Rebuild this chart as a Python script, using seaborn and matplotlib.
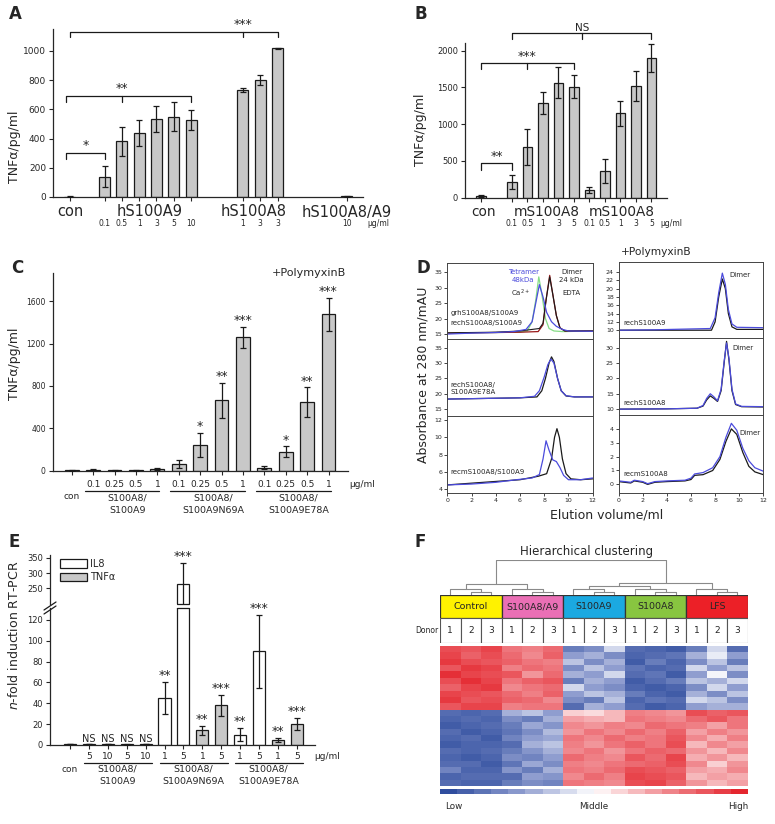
import numpy as np
import pandas as pd
import matplotlib
matplotlib.use('Agg')
import matplotlib.pyplot as plt
from matplotlib.colors import LinearSegmentedColormap
from matplotlib.transforms import offset_copy
from matplotlib.patches import Patch, Rectangle
from matplotlib.lines import Line2D
import seaborn as sns

sns.set_style("ticks")
plt.rcParams['font.family'] = ['DejaVu Sans']
plt.rcParams['axes.linewidth'] = 0.9
plt.rcParams['xtick.major.width'] = 0.8
plt.rcParams['ytick.major.width'] = 0.8

# ---------------- data ----------------
# A: human proteins, TNFa
a_groups = ['con', 'hS100A9', 'hS100A8', 'hS100A8/A9']
a_doses = [[''], ['0.1', '0.5', '1', '3', '5', '10'], ['1', '3', '3'], ['10']]
a_vals = [[2], [140, 380, 440, 535, 550, 527], [733, 800, 1018], [5]]
a_errs = [[2], [70, 100, 90, 90, 100, 70], [15, 35, 5], [3]]

# B: murine proteins, TNFa
b_groups = ['con', 'mS100A8', 'mS100A8']
b_doses = [[''], ['0.1', '0.5', '1', '3', '5'], ['0.1', '0.5', '1', '3', '5']]
b_vals = [[25], [220, 690, 1290, 1565, 1510], [100, 365, 1150, 1520, 1900]]
b_errs = [[10], [95, 250, 155, 215, 155], [40, 165, 170, 210, 195]]

# C: mutants + PolymyxinB
c_groups = ['con', 'S100A8/\nS100A9', 'S100A8/\nS100A9N69A', 'S100A8/\nS100A9E78A']
c_doses = [[''], ['0.1', '0.25', '0.5', '1'], ['0.1', '0.25', '0.5', '1'], ['0.1', '0.25', '0.5', '1']]
c_vals = [[5], [8, 2, 3, 15], [65, 245, 665, 1260], [30, 180, 650, 1475]]
c_errs = [[4], [5, 2, 2, 6], [35, 115, 165, 100], [10, 50, 140, 160]]
c_sig = [[''], ['', '', '', ''], ['', '*', '**', '***'], ['', '*', '**', '***']]

# D: gel filtration traces (elution volume ml, absorbance mAU)
d_tl_green_x = [0, 2, 4, 6, 6.6, 7.0, 7.3, 7.55, 7.8, 8.1, 8.4, 8.8, 9.5, 12]
d_tl_green_y = [15.2, 15.4, 15.5, 15.6, 16, 19, 26, 33.5, 28, 20, 16.8, 16, 15.8, 16]
d_tl_blue_x = [0, 2, 4, 5.5, 6.5, 7.0, 7.3, 7.6, 7.9, 8.2, 8.6, 9.0, 9.5, 10, 12]
d_tl_blue_y = [15, 15.3, 15.5, 15.8, 16.5, 19, 25, 31, 27, 22, 19, 17.5, 16.5, 16, 15.9]
d_tl_red_x = [0, 4, 6, 7.5, 7.9, 8.15, 8.45, 8.7, 9.0, 9.3, 9.7, 12]
d_tl_red_y = [15.3, 15.5, 15.6, 15.8, 18, 26, 34, 28, 21, 17, 16, 16]
d_tl_black_x = [0, 4, 6, 7, 7.6, 7.9, 8.15, 8.45, 8.7, 9.0, 9.3, 9.7, 12]
d_tl_black_y = [15.4, 15.6, 16, 16.5, 16.8, 18.5, 26, 33.5, 28, 21, 17, 16, 16]

d_ml_black_x = [0, 3, 6, 7.4, 7.8, 8.1, 8.4, 8.6, 8.8, 9.1, 9.4, 9.8, 10.5, 12]
d_ml_black_y = [18.3, 18.5, 18.7, 19, 21, 25, 30, 32, 30.5, 25, 21, 19.3, 19, 19]
d_ml_blue_x = [0, 3, 6, 7.2, 7.6, 8.0, 8.3, 8.55, 8.8, 9.1, 9.4, 9.8, 10.5, 12]
d_ml_blue_y = [18.3, 18.5, 18.7, 19.2, 21, 25.5, 29.5, 31.3, 30, 25, 21, 19.4, 19, 19]

d_bl_black_x = [0, 2, 4, 6, 7.5, 8.2, 8.6, 8.85, 9.05, 9.25, 9.5, 9.8, 10.2, 11, 12]
d_bl_black_y = [4.5, 4.7, 4.9, 5.1, 5.5, 5.8, 7.5, 10, 11, 10, 7.5, 5.8, 5.2, 5.1, 5.2]
d_bl_blue_x = [0, 2, 4, 5.7, 7, 7.6, 7.9, 8.15, 8.4, 8.7, 9.0, 9.3, 9.6, 10, 11, 12]
d_bl_blue_y = [4.5, 4.6, 4.8, 5.1, 5.3, 5.7, 7.5, 9.6, 8.5, 7.4, 7.2, 6.5, 5.6, 5.1, 5.1, 5.3]

d_tr_blue_x = [0, 3, 6, 7.6, 8.0, 8.3, 8.6, 8.85, 9.1, 9.4, 9.8, 12]
d_tr_blue_y = [10, 10.1, 10.3, 10.4, 13, 19, 23.7, 21, 15, 11.5, 10.7, 10.6]
d_tr_black_x = [0, 3, 6, 7.7, 8.0, 8.3, 8.6, 8.85, 9.1, 9.4, 9.8, 12]
d_tr_black_y = [10, 10, 10, 10, 12, 18, 22.3, 20, 14, 10.8, 10.2, 10.2]

d_mr_black_x = [0, 4, 6.5, 7.0, 7.3, 7.6, 7.9, 8.2, 8.5, 8.75, 8.95, 9.15, 9.4, 9.7, 10.2, 12]
d_mr_black_y = [10, 10.1, 10.3, 11, 13, 14.3, 13.5, 12.5, 16, 25, 32, 26, 16, 11.5, 10.8, 10.7]
d_mr_blue_x = [0, 4, 6.5, 7.0, 7.3, 7.6, 7.9, 8.2, 8.5, 8.75, 8.95, 9.15, 9.4, 9.7, 10.2, 12]
d_mr_blue_y = [10, 10.1, 10.3, 11.2, 13.5, 15, 14, 12.7, 16.5, 25.5, 31.5, 26.5, 16.5, 11.7, 10.9, 10.8]

d_br_blue_x = [0, 1, 1.3, 2, 2.4, 3, 4, 5.5, 6, 6.3, 7, 7.8, 8.4, 8.9, 9.35, 9.8, 10.3, 10.8, 11.3, 12]
d_br_blue_y = [0.25, 0.15, 0.3, 0.2, 0.05, 0.2, 0.25, 0.3, 0.45, 0.75, 0.85, 1.2, 2.0, 3.4, 4.4, 3.9, 2.6, 1.7, 1.2, 0.95]
d_br_black_x = [0, 1, 1.3, 2, 2.4, 3, 4, 5.5, 6, 6.3, 7, 7.8, 8.4, 8.9, 9.35, 9.8, 10.3, 10.8, 11.3, 12]
d_br_black_y = [0.2, 0.1, 0.25, 0.15, 0.0, 0.15, 0.2, 0.25, 0.35, 0.65, 0.7, 1.0, 1.8, 3.1, 4.0, 3.6, 2.3, 1.3, 0.9, 0.7]

# E: RT-PCR
e_groups = ['con', 'S100A8/\nS100A9', 'S100A8/\nS100A9N69A', 'S100A8/\nS100A9E78A']
e_doses = [[''], ['5', '10', '5', '10'], ['1', '5', '1', '5'], ['1', '5', '1', '5']]
e_kind = [['IL8'], ['IL8', 'IL8', 'TNFα', 'TNFα'], ['IL8', 'IL8', 'TNFα', 'TNFα'], ['IL8', 'IL8', 'TNFα', 'TNFα']]
e_vals = [[1], [1, 1, 0.5, 1], [45, 265, 14, 38], [10, 90, 5, 20]]
e_errs = [[0.4], [0.4, 0.4, 0.3, 0.4], [15, 68, 4, 10], [6, 35, 2, 6]]
e_sig = [[''], ['NS', 'NS', 'NS', 'NS'], ['**', '***', '**', '***'], ['**', '***', '**', '***']]

# F: heatmap
f_groups = ['Control', 'S100A8/A9', 'S100A9', 'S100A8', 'LFS']
f_group_colors = ['#fff200', '#ea6fb5', '#1ba9e1', '#88c540', '#ec2027']
f_donors = ['1', '2', '3']
f_top = [
    [0.80, 0.75, 0.85, 0.60, 0.55, 0.65, -0.70, -0.60, -0.20, -0.80, -0.85, -0.90, -0.70, -0.20, -0.80],
    [0.85, 0.70, 0.80, 0.65, 0.50, 0.70, -0.50, -0.40, -0.60, -0.85, -0.80, -0.75, -0.40, -0.10, -0.50],
    [0.90, 0.80, 0.75, 0.70, 0.60, 0.55, -0.30, -0.60, -0.40, -0.90, -0.70, -0.85, -0.60, -0.30, -0.70],
    [0.75, 0.90, 0.85, 0.55, 0.65, 0.60, -0.60, -0.30, -0.50, -0.75, -0.85, -0.80, -0.20, -0.50, -0.30],
    [0.95, 0.85, 0.80, 0.75, 0.45, 0.65, -0.40, -0.50, -0.20, -0.80, -0.75, -0.90, -0.50, -0.05, -0.60],
    [0.80, 0.95, 0.85, 0.60, 0.70, 0.75, -0.70, -0.40, -0.50, -0.90, -0.80, -0.70, -0.30, -0.40, -0.20],
    [0.70, 0.85, 0.90, 0.50, 0.60, 0.65, -0.20, -0.50, -0.60, -0.85, -0.90, -0.85, -0.60, -0.20, -0.50],
    [0.85, 0.80, 0.75, 0.65, 0.55, 0.70, -0.50, -0.30, -0.40, -0.70, -0.85, -0.90, -0.40, -0.60, -0.30],
    [0.90, 0.75, 0.80, 0.70, 0.65, 0.50, -0.60, -0.70, -0.30, -0.85, -0.75, -0.80, -0.20, -0.30, -0.60],
    [0.75, 0.85, 0.85, 0.55, 0.60, 0.60, -0.80, -0.40, -0.50, -0.80, -0.90, -0.85, -0.50, -0.40, -0.40],
]
f_bottom = [
    [-0.80, -0.85, -0.80, -0.40, -0.30, -0.50, 0.20, 0.15, 0.30, 0.55, 0.50, 0.45, 0.80, 0.70, 0.75],
    [-0.85, -0.80, -0.85, -0.60, -0.70, -0.40, 0.40, 0.35, 0.30, 0.60, 0.55, 0.50, 0.65, 0.75, 0.60],
    [-0.90, -0.85, -0.80, -0.70, -0.45, -0.55, 0.50, 0.45, 0.55, 0.50, 0.65, 0.60, 0.55, 0.40, 0.60],
    [-0.80, -0.90, -0.85, -0.75, -0.60, -0.35, 0.45, 0.60, 0.50, 0.65, 0.55, 0.70, 0.40, 0.55, 0.45],
    [-0.85, -0.80, -0.90, -0.65, -0.50, -0.45, 0.60, 0.50, 0.65, 0.55, 0.60, 0.75, 0.50, 0.35, 0.55],
    [-0.90, -0.85, -0.85, -0.80, -0.40, -0.30, 0.55, 0.45, 0.60, 0.70, 0.60, 0.80, 0.30, 0.50, 0.40],
    [-0.80, -0.85, -0.80, -0.70, -0.55, -0.40, 0.50, 0.60, 0.45, 0.60, 0.70, 0.65, 0.45, 0.30, 0.50],
    [-0.85, -0.90, -0.85, -0.60, -0.65, -0.50, 0.65, 0.55, 0.50, 0.75, 0.65, 0.85, 0.35, 0.45, 0.30],
    [-0.80, -0.80, -0.90, -0.75, -0.45, -0.60, 0.55, 0.50, 0.60, 0.65, 0.70, 0.80, 0.50, 0.20, 0.45],
    [-0.65, -0.85, -0.85, -0.55, -0.70, -0.40, 0.60, 0.55, 0.65, 0.80, 0.75, 0.70, 0.40, 0.35, 0.50],
    [-0.85, -0.80, -0.80, -0.80, -0.50, -0.55, 0.50, 0.65, 0.55, 0.85, 0.80, 0.75, 0.30, 0.40, 0.35],
    [-0.80, -0.85, -0.85, -0.70, -0.60, -0.65, 0.60, 0.55, 0.50, 0.80, 0.85, 0.70, 0.45, 0.30, 0.40],
]
# dendrogram merges: (child a, child b, height); leaves 0-14, new nodes from 15
f_merges = [(1, 2, 0.10), (0, 15, 0.18), (4, 5, 0.10), (3, 17, 0.18), (16, 18, 0.32),
            (7, 8, 0.10), (6, 20, 0.18), (10, 11, 0.10), (9, 22, 0.18), (21, 23, 0.27),
            (13, 14, 0.10), (12, 25, 0.18), (24, 26, 0.33), (19, 27, 1.0)]

# ---------------- helpers ----------------
W, H = 775, 824
fig = plt.figure(figsize=(W / 100, H / 100), dpi=100)
INK = '#1a1a1a'
GRAY = '#c8c8c8'


def box(l, t, r, b):
    return fig.add_axes([l / W, 1 - b / H, (r - l) / W, (b - t) / H])


def ftext(x, y, s, **kw):
    fig.text(x / W, 1 - y / H, s, **kw)


def fline(x0, y0, x1, y1, **kw):
    fig.add_artist(Line2D([x0 / W, x1 / W], [1 - y0 / H, 1 - y1 / H], transform=fig.transFigure, **kw))


def flat(ls):
    return [v for l in ls for v in l]


def place(gaps, groups):
    pos, x = [], 0
    for g, vals in zip(gaps, groups):
        x += g
        for _ in vals:
            pos.append(x)
            x += 1
    return pos


def under(ax, x, px, s, **kw):
    tr = offset_copy(ax.get_xaxis_transform(), fig=fig, x=0, y=-px * 0.72, units='points')
    ax.text(x, 0, s, transform=tr, ha='center', va='center', clip_on=False, **kw)


def underline(ax, x0, x1, px):
    tr = offset_copy(ax.get_xaxis_transform(), fig=fig, x=0, y=-px * 0.72, units='points')
    ax.plot([x0, x1], [0, 0], transform=tr, color=INK, lw=0.9, clip_on=False)


def draw_bars(ax, pos, vals, errs, colors):
    df = pd.DataFrame({'x': pos, 'y': vals, 'c': colors})
    for c, d in df.groupby('c'):
        sns.barplot(data=d, x='x', y='y', native_scale=True, color=c, saturation=1,
                    width=0.64, edgecolor=INK, linewidth=0.9, errorbar=None, ax=ax, orient='x')
    ax.errorbar(pos, vals, yerr=errs, fmt='none', ecolor=INK, elinewidth=0.9,
                capsize=2.3, capthick=0.9, zorder=5)
    ax.set_xlabel('')
    ax.set_ylabel('')


def bracket(ax, x0, x1, y, drop, text, xm=None, fs=9):
    ax.plot([x0, x0, x1, x1], [y - drop, y, y, y - drop], color=INK, lw=0.9, clip_on=False)
    if xm is not None:
        ax.plot([xm, xm], [y, y - drop], color=INK, lw=0.9, clip_on=False)
    else:
        xm = (x0 + x1) / 2
    ax.annotate(text, (xm, y), xytext=(0, 0.5), textcoords='offset points',
                ha='center', va='bottom', fontsize=fs, annotation_clip=False)


def stars(ax, pos, vals, errs, sig, fs=9):
    for p, v, e, s in zip(pos, vals, errs, sig):
        if s:
            ax.annotate(s, (p, v + e), xytext=(0, -0.5), textcoords='offset points',
                        ha='center', va='bottom', fontsize=fs if s != 'NS' else 7,
                        annotation_clip=False)


def panel_letter(x, y, s):
    ftext(x, y, s, fontsize=12, fontweight='bold', ha='left', va='center')


# ---------------- A ----------------
ax = box(53, 29, 363, 197)
pos = place([0, 1, 2, 3], a_vals)
draw_bars(ax, pos, flat(a_vals), flat(a_errs), [GRAY] * len(pos))
ax.set_xlim(-0.98, 16.94)
ax.set_ylim(0, 1150)
ax.set_yticks(range(0, 1001, 200))
ax.set_xticks(pos)
ax.set_xticklabels([])
ax.tick_params(labelsize=6.5, length=3, pad=2)
sns.despine(ax=ax)
ax.set_ylabel('TNFα/pg/ml', fontsize=9)
ax.yaxis.set_label_coords(-0.103, 0.3)
a_label_shift = [0, 0.1, -0.4, 0]
i = 0
for g, d, sh in zip(a_groups, a_doses, a_label_shift):
    gp = pos[i:i + len(d)]
    under(ax, np.mean(gp) + sh, 15, g, fontsize=10.5)
    for p, s in zip(gp, d):
        under(ax, p, 26, s, fontsize=5.5)
    i += len(d)
under(ax, 17.8, 26, 'μg/ml', fontsize=5.5)
bracket(ax, -0.2, 2, 303, 43, '*')
bracket(ax, -0.2, 7, 694, 44, '**', xm=3)
bracket(ax, 0, 12, 1130, 36, '***', xm=10)
panel_letter(9, 14, 'A')

# ---------------- B ----------------
ax = box(465, 43, 667, 197.7)
pos = place([0, 1, 0], b_vals)
draw_bars(ax, pos, flat(b_vals), flat(b_errs), [GRAY] * len(pos))
ax.set_xlim(-1.03, 12.0)
ax.set_ylim(0, 2105)
ax.set_yticks(range(0, 2001, 500))
ax.set_xticks(pos)
ax.set_xticklabels([])
ax.tick_params(labelsize=6, length=3, pad=2)
sns.despine(ax=ax)
ax.set_ylabel('TNFα/pg/ml', fontsize=9)
ax.yaxis.set_label_coords(-0.188, 0.44)
b_label_shift = [0.15, 0.25, 0.05]
i = 0
for g, d, sh in zip(b_groups, b_doses, b_label_shift):
    gp = pos[i:i + len(d)]
    under(ax, np.mean(gp) + sh, 14, g, fontsize=9.8)
    for p, s in zip(gp, d):
        under(ax, p, 25.5, s, fontsize=5.5)
    i += len(d)
under(ax, 12.3, 25.5, 'μg/ml', fontsize=5.5)
bracket(ax, 0, 2, 468, 90, '**')
bracket(ax, 0, 6, 1829, 82, '***', xm=3)
bracket(ax, 2, 11, 2237, 80, 'NS', xm=6.5, fs=7.5)
panel_letter(415, 14, 'B')

# ---------------- C ----------------
ax = box(52.7, 273.3, 348, 470.7)
pos = place([0, 0, 0, 0], c_vals)
draw_bars(ax, pos, flat(c_vals), flat(c_errs), [GRAY] * len(pos))
stars(ax, pos, flat(c_vals), flat(c_errs), flat(c_sig))
ax.set_xlim(-0.89, 12.91)
ax.set_ylim(0, 1864)
ax.set_yticks(range(0, 1601, 400))
ax.set_xticks(pos)
ax.set_xticklabels([])
ax.tick_params(labelsize=5.5, length=3, pad=2)
sns.despine(ax=ax)
ax.set_ylabel('TNFα/pg/ml', fontsize=9)
ax.yaxis.set_label_coords(-0.107, 0.54)
ax.text(0.995, 1.0, '+PolymyxinB', transform=ax.transAxes, ha='right', va='center', fontsize=8)
i = 0
for g, d in zip(c_groups, c_doses):
    gp = pos[i:i + len(d)]
    if len(d) == 1:
        under(ax, gp[0], 26.3, g, fontsize=6.5)
    else:
        for p, s in zip(gp, d):
            under(ax, p, 14.3, s, fontsize=6.5)
        underline(ax, gp[0] - 0.4, gp[-1] + 0.1, 20.3)
        under(ax, np.mean(gp) + 0.1, 34, g, fontsize=6.8, linespacing=1.5)
    i += len(d)
under(ax, 13.56, 14.3, 'μg/ml', fontsize=6.5)
panel_letter(11, 268, 'C')

# ---------------- D ----------------
BLUE = '#4b4bdc'


def d_axes(l, t, r, b, ylim, yticks, bottom):
    a = box(l, t, r, b)
    a.set_xlim(0, 12)
    a.set_ylim(*ylim)
    a.set_yticks(yticks)
    a.set_xticks(range(0, 13, 2))
    a.tick_params(labelsize=4.5, length=2, width=0.6, pad=1.5)
    if not bottom:
        a.tick_params(axis='x', bottom=False, labelbottom=False)
    for s in a.spines.values():
        s.set_linewidth(0.7)
        s.set_color('#444444')
    return a


def trace(a, x, y, c, lw=0.9):
    a.plot(x, y, color=c, lw=lw)


ax = d_axes(447.3, 263.3, 592.7, 339, (13.4, 37.9), range(15, 36, 5), False)
trace(ax, d_tl_green_x, d_tl_green_y, '#86dc86')
trace(ax, d_tl_red_x, d_tl_red_y, '#9a1a1a')
trace(ax, d_tl_black_x, d_tl_black_y, INK, 0.8)
trace(ax, d_tl_blue_x, d_tl_blue_y, BLUE)
ax.text(6.27, 33.8, 'Tetramer\n48kDa', color=BLUE, ha='center', va='center', fontsize=5, linespacing=1.4)
ax.text(6.0, 28.2, 'Ca$^{2+}$', ha='center', va='center', fontsize=5)
ax.text(10.26, 33.8, 'Dimer\n24 kDa', ha='center', va='center', fontsize=5, linespacing=1.4)
ax.text(10.26, 28.2, 'EDTA', ha='center', va='center', fontsize=5)
ax.text(0.28, 21.7, 'grhS100A8/S100A9', ha='left', va='center', fontsize=5)
ax.text(0.28, 18.45, 'rechS100A8/S100A9', ha='left', va='center', fontsize=5)

ax = d_axes(447.3, 339, 592.7, 415.7, (12.9, 37.8), range(15, 36, 5), False)
trace(ax, d_ml_black_x, d_ml_black_y, INK)
trace(ax, d_ml_blue_x, d_ml_blue_y, BLUE)
ax.text(0.28, 21.6, 'rechS100A8/\nS100A9E78A', ha='left', va='center', fontsize=5)

ax = d_axes(447.3, 415.7, 592.7, 492.7, (3.6, 12.5), range(4, 13, 2), True)
trace(ax, d_bl_black_x, d_bl_black_y, INK)
trace(ax, d_bl_blue_x, d_bl_blue_y, BLUE)
ax.text(0.28, 6.0, 'recmS100A8/S100A9', ha='left', va='center', fontsize=5)

ax = d_axes(618.7, 262.3, 763.3, 337.7, (8.2, 26.3), range(10, 25, 2), False)
trace(ax, d_tr_black_x, d_tr_black_y, INK)
trace(ax, d_tr_blue_x, d_tr_blue_y, BLUE)
ax.text(0.4, 11.7, 'rechS100A9', ha='left', va='center', fontsize=5)
ax.text(10.1, 23.3, 'Dimer', ha='center', va='center', fontsize=5)

ax = d_axes(618.7, 337.7, 763.3, 415, (8.1, 33.2), range(10, 31, 5), False)
trace(ax, d_mr_black_x, d_mr_black_y, INK)
trace(ax, d_mr_blue_x, d_mr_blue_y, BLUE)
ax.text(0.4, 12.1, 'rechS100A8', ha='left', va='center', fontsize=5)
ax.text(10.3, 29.8, 'Dimer', ha='center', va='center', fontsize=5)

ax = d_axes(618.7, 415, 763.3, 492.7, (-0.6, 5.0), range(0, 5), True)
trace(ax, d_br_black_x, d_br_black_y, INK)
trace(ax, d_br_blue_x, d_br_blue_y, BLUE)
ax.text(0.4, 0.78, 'recmS100A8', ha='left', va='center', fontsize=5)
ax.text(10.9, 3.7, 'Dimer', ha='center', va='center', fontsize=5)

ftext(656, 252, '+PolymyxinB', ha='center', va='center', fontsize=7.7)
ftext(606.7, 515, 'Elution volume/ml', ha='center', va='center', fontsize=9)
ftext(423, 375, 'Absorbance at 280 nm/mAU', ha='center', va='center', rotation=90, fontsize=9)
panel_letter(417, 268, 'D')

# ---------------- E ----------------
pos = place([0, 0, 0, 0], e_vals)
kinds = flat(e_kind)
cols = ['white' if k == 'IL8' else GRAY for k in kinds]
vals, errs, sig = flat(e_vals), flat(e_errs), flat(e_sig)
E_LOW_TOP = 131.5

axl = box(50, 608, 315, 745)
draw_bars(axl, pos, vals, errs, cols)
axl.set_xlim(-1.06, 12.96)
axl.set_ylim(0, E_LOW_TOP)
axl.set_yticks(range(0, 121, 20))
axl.set_xticks(pos)
axl.set_xticklabels([])
axl.tick_params(labelsize=6, length=3, pad=2)
sns.despine(ax=axl)

axu = box(50, 555, 315, 603.6)
axu.patch.set_visible(False)
draw_bars(axu, pos, vals, errs, cols)
axu.set_xlim(-1.06, 12.96)
axu.set_ylim(200, 359)
axu.set_yticks([250, 300, 350])
axu.tick_params(labelsize=6, length=3, pad=2)
axu.tick_params(axis='x', bottom=False, labelbottom=False)
sns.despine(ax=axu, bottom=True)

# close the cut bar at the break
for p, v in zip(pos, vals):
    if v > E_LOW_TOP:
        axl.plot([p - 0.32, p + 0.32], [E_LOW_TOP, E_LOW_TOP], color=INK, lw=0.9, clip_on=False)
        axu.plot([p - 0.32, p + 0.32], [200, 200], color=INK, lw=0.9, clip_on=False)

for p, v, e, s in zip(pos, vals, errs, sig):
    if not s:
        continue
    target = axu if v + e > E_LOW_TOP else axl
    target.annotate(s, (p, v + e), xytext=(0, 0), textcoords='offset points', ha='center',
                    va='bottom', fontsize=9 if s != 'NS' else 7, annotation_clip=False, zorder=6)

fline(44, 610, 56, 602, color=INK, lw=0.9)
fline(44, 614, 56, 606, color=INK, lw=0.9)

axl.set_ylabel('$n$-fold induction RT-PCR', fontsize=9)
axl.yaxis.set_label_coords(-0.109, 0.8)
i = 0
for g, d in zip(e_groups, e_doses):
    gp = pos[i:i + len(d)]
    if len(d) == 1:
        under(axl, gp[0], 24, g, fontsize=6.5)
    else:
        for p, s in zip(gp, d):
            under(axl, p, 11.7, s, fontsize=6.5)
        underline(axl, gp[0] - 0.25, gp[-1] + 0.35, 17.7)
        under(axl, np.mean(gp), 30.5, g, fontsize=6.8, linespacing=1.5)
    i += len(d)
under(axl, 13.58, 11.7, 'μg/ml', fontsize=6.5)

handles = [Patch(facecolor='white', edgecolor=INK, lw=0.9), Patch(facecolor=GRAY, edgecolor=INK, lw=0.9)]
axu.legend(handles, ['IL8', 'TNFα'], loc='upper left', bbox_to_anchor=(60 / W, 1 - 559 / H),
           bbox_transform=fig.transFigure, frameon=False, fontsize=7, handlelength=2.8,
           handleheight=1.0, handletextpad=0.3, labelspacing=0.35, borderpad=0, borderaxespad=0)
panel_letter(9, 541.7, 'E')

# ---------------- F ----------------
ftext(587, 551.7, 'Hierarchical clustering', ha='center', va='center', fontsize=8.5)
panel_letter(414, 541.7, 'F')

# dendrogram
axd = box(440, 560, 747.7, 595)
nx = {i: i + 0.5 for i in range(15)}
nh = {i: 0.0 for i in range(15)}
for k, (a, b, h) in enumerate(f_merges):
    axd.plot([nx[a], nx[a], nx[b], nx[b]], [nh[a], h, h, nh[b]], color='#8a8a8a', lw=0.8)
    nx[15 + k] = (nx[a] + nx[b]) / 2
    nh[15 + k] = h
axd.set_xlim(0, 15)
axd.set_ylim(0, 1.0)
axd.axis('off')

# group boxes
axg = box(440, 595, 747.7, 618.3)
for k, (g, c) in enumerate(zip(f_groups, f_group_colors)):
    axg.add_patch(Rectangle((3 * k, 0), 3, 1, facecolor=c, edgecolor='#333333', lw=0.9))
    axg.text(3 * k + 1.5, 0.5, g, ha='center', va='center', fontsize=6.8)
axg.set_xlim(0, 15)
axg.set_ylim(0, 1)
axg.axis('off')

# donor row
axn = box(440, 618.3, 747.7, 643.3)
for k in range(15):
    axn.add_patch(Rectangle((k, 0), 1, 1, facecolor='white', edgecolor='#555555', lw=0.8))
    axn.text(k + 0.5, 0.5, f_donors[k % 3], ha='center', va='center', fontsize=6.5)
axn.set_xlim(0, 15)
axn.set_ylim(0, 1)
axn.axis('off')
ftext(438, 630.8, 'Donor', ha='right', va='center', fontsize=5.5)

# heatmap
cmap = LinearSegmentedColormap.from_list('bwr_f', ['#2f4d9e', '#8f9dcf', '#ffffff', '#f0898f', '#e4262e'])
hm = pd.DataFrame(f_top + f_bottom)
axh = box(440, 646, 747.7, 786)
sns.heatmap(hm, cmap=cmap, vmin=-1, vmax=1, cbar=False, ax=axh, xticklabels=False, yticklabels=False)

# colour scale
axc = box(440, 789.3, 747.7, 794)
sns.heatmap(pd.DataFrame([np.linspace(-1, 1, 18)]), cmap=cmap, vmin=-1, vmax=1, cbar=False, ax=axc,
            xticklabels=False, yticklabels=False)
ftext(445, 806.7, 'Low', ha='left', va='center', fontsize=6.3)
ftext(594, 806.7, 'Middle', ha='center', va='center', fontsize=6.3)
ftext(748, 806.7, 'High', ha='right', va='center', fontsize=6.3)

fig.savefig('out.png', dpi=100)
